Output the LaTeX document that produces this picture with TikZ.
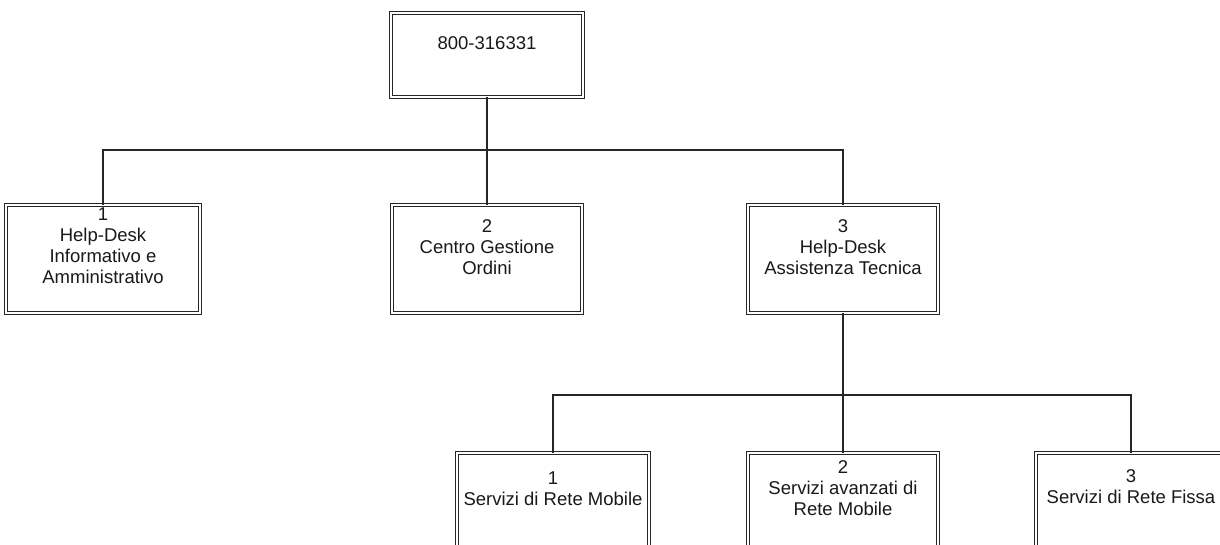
\documentclass[tikz,border=0pt]{standalone}
\usepackage{fontspec}
\setmainfont{Liberation Sans}
\begin{document}
\begin{tikzpicture}[x=1pt,y=-1pt,
  box/.style={draw=black!85, double=white, double distance=1.6pt, line width=0.75pt, inner sep=0pt},
  lbl/.style={font=\fontsize{18.5}{21}\selectfont, align=center, text=black!90, inner sep=0pt},
  wire/.style={draw=black!85, line width=1.6pt}]
\useasboundingbox (0,0) rectangle (1220,544);
\clip (0,0) rectangle (1220,544);
\fill[white] (0,0) rectangle (1220,544);
% top
\node[box, minimum width=192, minimum height=84] (top) at (487,55) {};
\node[lbl] (ttop) at (487,43) {800-316331};
% first level
\node[box, minimum width=194, minimum height=108] (b1) at (103,259) {};
\node[lbl] (t1) at (103,246) {1\\Help-Desk\\Informativo e\\Amministrativo};
\node[box, minimum width=190, minimum height=108] (b2) at (487,259) {};
\node[lbl] (t2) at (487,247) {2\\Centro Gestione\\Ordini};
\node[box, minimum width=190, minimum height=108] (b3) at (843,259) {};
\node[lbl] (t3) at (843,247) {3\\Help-Desk\\Assistenza Tecnica};
% second level
\node[box, minimum width=192, minimum height=110] (c1) at (553,508) {};
\node[lbl] (u1) at (553,489) {1\\Servizi di Rete Mobile};
\node[box, minimum width=190, minimum height=110] (c2) at (843,508) {};
\node[lbl] (u2) at (843,488) {2\\Servizi avanzati di\\Rete Mobile};
\node[box, minimum width=190, minimum height=110] (c3) at (1131,508) {};
\node[lbl] (u3) at (1131,487) {3\\Servizi di Rete Fissa};
% connectors
\coordinate (j1) at (487,150);
\coordinate (j2) at (843,395);
\draw[wire] (top.south) -- (b2.north);
\draw[wire] (b1.north) |- (b3.north |- j1) -- (b3.north);
\draw[wire] (b3.south) -- (c2.north);
\draw[wire] (c1.north) |- (c3.north |- j2) -- (c3.north);
\end{tikzpicture}
\end{document}
